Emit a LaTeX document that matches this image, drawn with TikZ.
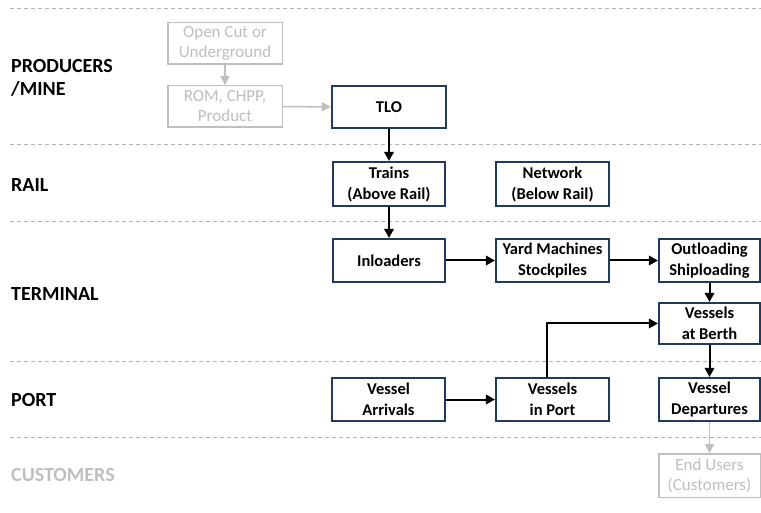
\documentclass[tikz,border=0pt]{standalone}
\usepackage{fontspec}
\setmainfont{Carlito}
\usetikzlibrary{arrows.meta}
\definecolor{navy}{HTML}{1F3A5C}
\definecolor{mute}{HTML}{BFBFBF}
\definecolor{rulegray}{HTML}{B4B4B4}
\begin{document}
\begin{tikzpicture}[x=1pt,y=-1pt,
  flow/.style={draw=navy, line width=2.2pt, fill=white, align=center, inner sep=0pt,
    font=\fontsize{16.5}{21}\selectfont\bfseries},
  faded/.style={draw=mute, line width=1.5pt, fill=white, text=mute, align=center, inner sep=0pt,
    font=\fontsize{17}{20}\selectfont},
  lane/.style={draw=rulegray, line width=1pt, dash pattern=on 4pt off 3pt},
  tier/.style={anchor=base west, inner sep=0pt, font=\fontsize{20}{23}\selectfont\bfseries},
  link/.style={line width=2pt, -{Triangle[length=9pt,width=9.5pt]}},
  fadedlink/.style={draw=mute, line width=1.5pt, -{Triangle[length=9pt,width=9pt]}}
]
\useasboundingbox (0,0) rectangle (761,513);

% lane separators
\foreach \y in {9,145,222,361,437}
  \draw[lane] (10,\y) -- (761,\y);

% lane titles
\node[tier] (tprod) at (11,72.5) {PRODUCERS};
\node[tier] (tmine) at (11,95.5) {/MINE};
\node[tier] (trail) at (11,191.5) {RAIL};
\node[tier] (tterm) at (11,300.5) {TERMINAL};
\node[tier] (tport) at (11,406.5) {PORT};
\node[tier, text=mute] (tcust) at (11,481) {CUSTOMERS};

% producers / mine
\node[faded, minimum width=114.5pt, minimum height=41.5pt] (ocu) at (225,43.5) {Open Cut or\\Underground};
\node[faded, minimum width=114.5pt, minimum height=41.5pt] (rom) at (225,106.5) {ROM, CHPP,\\Product};
\node[flow, minimum width=114pt, minimum height=42pt] (tlo) at (389,107) {TLO};

% rail
\node[flow, minimum width=112pt, minimum height=44pt] (trains) at (389,184) {Trains\\(Above Rail)};
\node[flow, minimum width=113pt, minimum height=44pt] (network) at (552.5,184) {Network\\(Below Rail)};

% terminal
\node[flow, minimum width=112pt, minimum height=43pt] (inload) at (389,260.5) {Inloaders};
\node[flow, minimum width=113pt, minimum height=43pt] (yard) at (552.5,260.5) {Yard Machines\\Stockpiles};
\node[flow, minimum width=101pt, minimum height=43pt] (outl) at (709.5,260.5) {Outloading\\Shiploading};
\node[flow, minimum width=101pt, minimum height=41pt] (berth) at (709.5,323.5) {Vessels\\at Berth};

% port
\node[flow, minimum width=113pt, minimum height=43pt] (arr) at (388.5,399.5) {Vessel\\Arrivals};
\node[flow, minimum width=113pt, minimum height=43pt] (inport) at (552.5,399.5) {Vessels\\in Port};
\node[flow, minimum width=101pt, minimum height=43pt] (depart) at (709.5,399.5) {Vessel\\Departures};

% customers
\node[faded, minimum width=101.5pt, minimum height=43.5pt] (endu) at (709.5,475.5) {End Users\\(Customers)};

% flows
\draw[fadedlink] (ocu) -- (rom);
\draw[fadedlink] (rom) -- (tlo);
\draw[link] (tlo) -- (trains);
\draw[link] (trains) -- (inload);
\draw[link] (inload) -- (yard);
\draw[link] (yard) -- (outl);
\draw[link] (outl) -- (berth);
\draw[link] (berth) -- (depart);
\draw[fadedlink] (depart) -- (endu);
\draw[link] (arr) -- (inport);
\draw[link] ([xshift=-5.5pt]inport.north) |- (berth.west);
\end{tikzpicture}
\end{document}
